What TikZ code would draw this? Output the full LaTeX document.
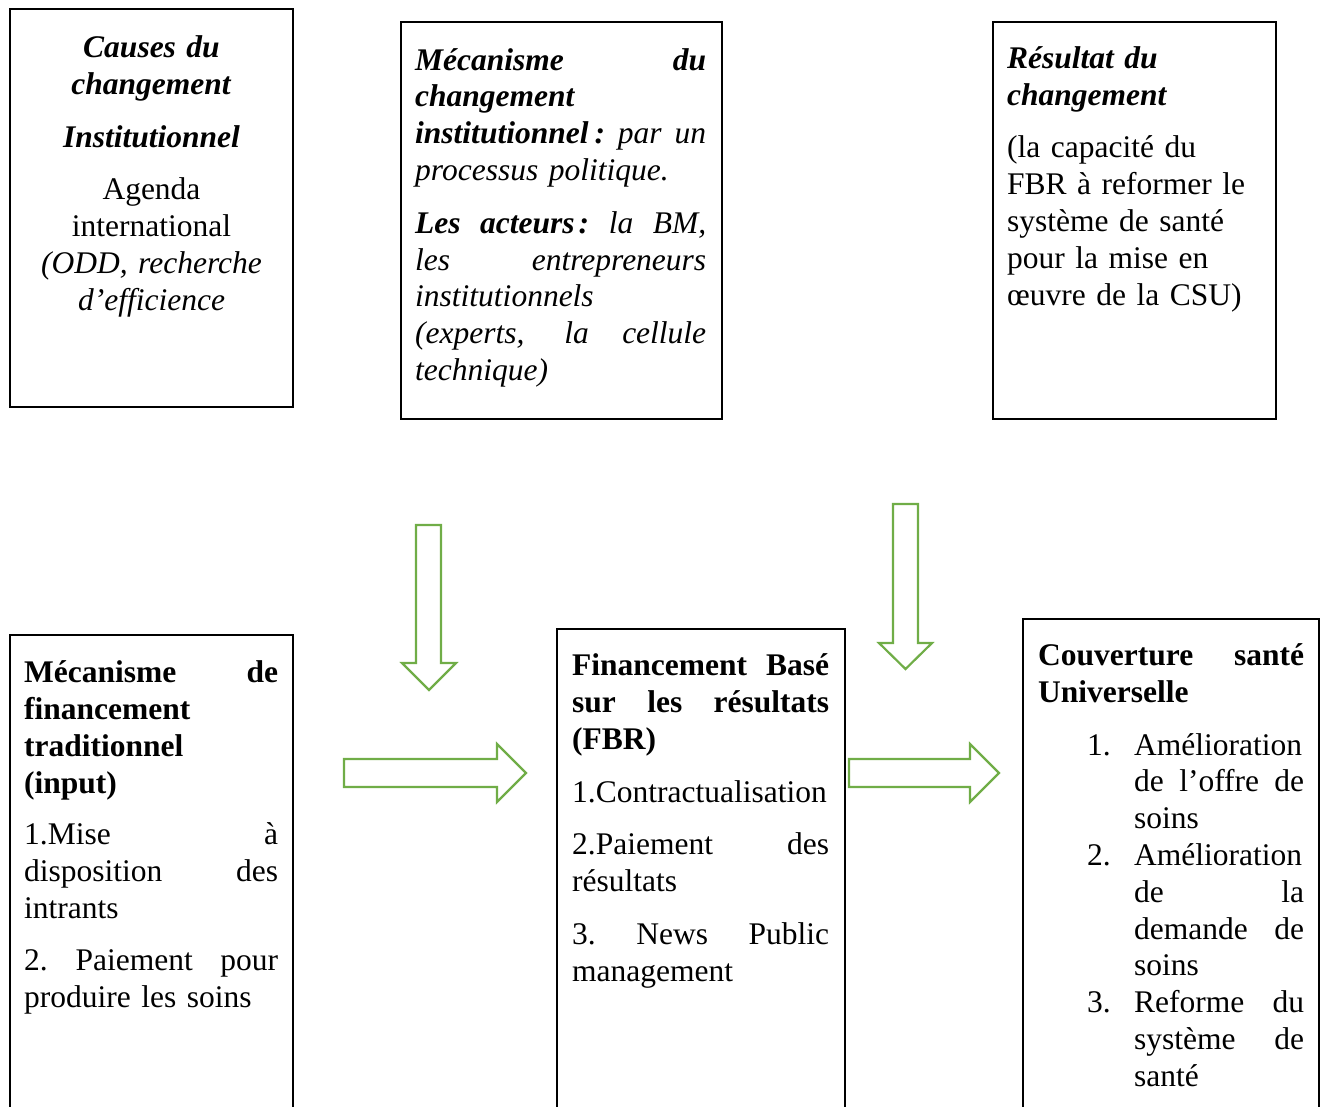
\documentclass[tikz,border=0pt]{standalone}
\usepackage{fontspec}
\setmainfont{Liberation Serif}
\definecolor{grn}{RGB}{112,173,71}
\newlength\jlw
\newcommand\jl[1]{\leavevmode\hbox to \jlw{\spaceskip=0.25em plus 1fil\xspaceskip=0.25em plus 1fil #1}}
\newcommand\numl[1]{\leavevmode\llap{\makebox[47pt][l]{#1}}}
\begin{document}
\begin{tikzpicture}[x=1pt,y=-1pt,
  box/.style={draw=black,line width=1.8pt,inner sep=0pt,rectangle},
  txt/.style={inner sep=0pt,anchor=north west,align=left,font={\fontsize{31.5}{37}\selectfont}},
  blockarrow/.style={draw=grn,line width=2.2pt,fill=white,line join=miter}]
\useasboundingbox (0,0) rectangle (1327,1106);
\clip (0,0) rectangle (1327,1106);

% boxes
\node[box,minimum width=283pt,minimum height=398pt] (b1) at (151.5,208) {};
\node[box,minimum width=321pt,minimum height=397pt] (b2) at (561.5,220.5) {};
\node[box,minimum width=283pt,minimum height=397pt] (b3) at (1134.5,220.5) {};
\node[box,minimum width=283pt,minimum height=495pt] (b4) at (151.5,882.5) {};
\node[box,minimum width=288pt,minimum height=501pt] (b5) at (701,879.5) {};
\node[box,minimum width=296pt,minimum height=511pt] (b6) at (1171,874.5) {};

% texts
\node[txt,anchor=north,align=center,text width=280pt] (t1) at (151.5,31.1) {\strut\textbf{\textit{Causes du}}\\ \textbf{\textit{changement}}\\[16pt] \textbf{\textit{Institutionnel}}\\[15pt] Agenda\\ international\\ \textit{(ODD, recherche}\\ \textit{d’efficience}};

\node[txt,text width=291pt,font={\fontsize{31.5}{36.75}\selectfont}] (t2) at (415,44.3) {\setlength\jlw{291pt}\strut\jl{\textbf{\textit{Mécanisme du}}}\\ \textbf{\textit{changement}}\\ \jl{\textbf{\textit{institutionnel\kern6pt:}} \textit{par un}}\\ \textit{processus politique.}\\[16.25pt] \jl{\textbf{\textit{Les acteurs\kern4pt:}} \textit{la BM,}}\\ \jl{\textit{les entrepreneurs}}\\ \textit{institutionnels}\\ \jl{\textit{(experts, la cellule}}\\ \textit{technique)}};

\node[txt,text width=262pt] (t3) at (1007,42.1) {\strut\textbf{\textit{Résultat du}}\\ \textbf{\textit{changement}}\\[15pt] (la capacité du\\ FBR à reformer le\\ système de santé\\ pour la mise en\\ œuvre de la CSU)};

\node[txt,text width=254pt] (t4) at (24,656.1) {\setlength\jlw{254pt}\strut\jl{\textbf{Mécanisme de}}\\ \textbf{financement}\\ \textbf{traditionnel}\\ \textbf{(input)}\\[14pt] \jl{1.Mise à}\\ \jl{disposition des}\\ intrants\\[15pt] \jl{2. Paiement pour}\\ produire les soins};

\node[txt,text width=257pt] (t5) at (572,649.1) {\setlength\jlw{257pt}\strut\jl{\textbf{Financement Basé}}\\ \jl{\textbf{sur les résultats}}\\ \textbf{(FBR)}\\[16pt] 1.Contractualisation\\[15pt] \jl{2.Paiement des}\\ résultats\\[16pt] \jl{3. News Public}\\ management};

\node[txt,text width=266pt] (t6) at (1038,639.1) {\setlength\jlw{266pt}\strut\jl{\textbf{Couverture santé}}\\ \textbf{Universelle}};

\node[txt,text width=170pt,font={\fontsize{31.5}{36.8}\selectfont}] (t7) at (1134,729.1) {\setlength\jlw{170pt}\strut\numl{1.}Amélioration\\ \jl{de l’offre de}\\ soins\\ \numl{2.}Amélioration\\ \jl{de la}\\ \jl{demande de}\\ soins\\ \numl{3.}\jl{Reforme du}\\ \jl{système de}\\ santé};

% block arrows
\draw[blockarrow] (416,525) -- (441,525) -- (441,663) -- (456,663) -- (429,690) -- (402,663) -- (416,663) -- cycle;
\draw[blockarrow] (893,504) -- (918,504) -- (918,643) -- (932,643) -- (905.5,669) -- (879,643) -- (893,643) -- cycle;
\draw[blockarrow] (344,759) -- (497,759) -- (497,744) -- (526,773) -- (497,802) -- (497,787) -- (344,787) -- cycle;
\draw[blockarrow] (849,759) -- (970,759) -- (970,744) -- (999,773) -- (970,802) -- (970,787) -- (849,787) -- cycle;
\end{tikzpicture}
\end{document}
